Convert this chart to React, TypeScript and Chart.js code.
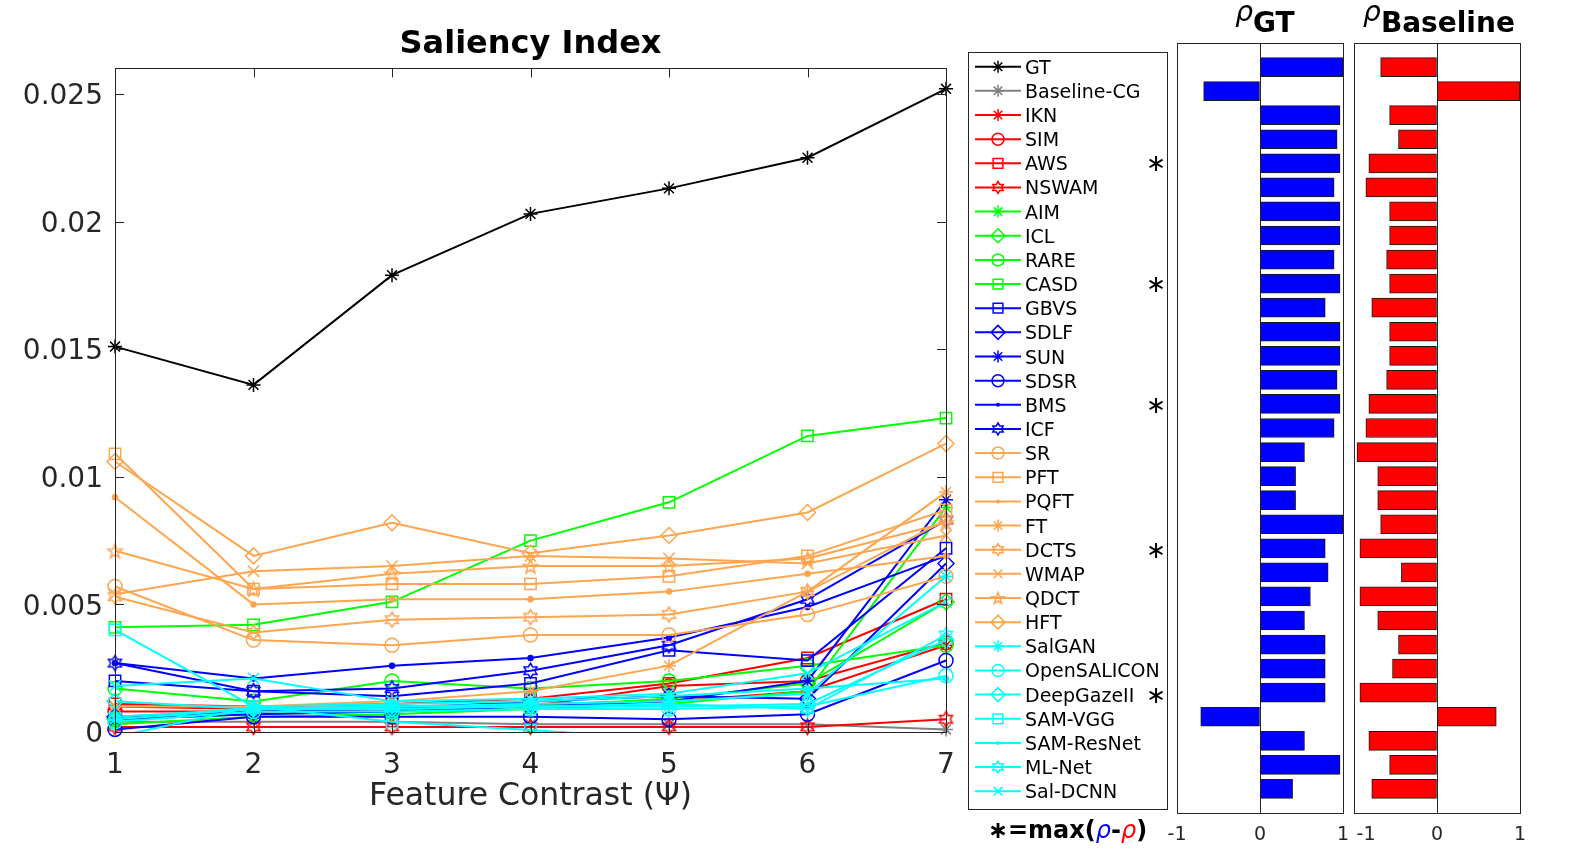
import React, { useEffect, useRef } from 'react';
import { Chart, registerables } from 'chart.js';

Chart.register(...registerables);

const FONT = '"DejaVu Sans", "Liberation Sans", sans-serif';
Chart.defaults.font.family = FONT;

// ---------------- data ----------------
const CONTRAST_LEVELS = [1, 2, 3, 4, 5, 6, 7];

const GT = [0.0151, 0.0136, 0.0179, 0.0203, 0.0213, 0.0225, 0.0252];
const BASELINE_CG = [0.0004, 0.0004, 0.0004, 0.0003, 0.0003, 0.0003, 0.0001];
const IKN = [0.001, 0.0009, 0.001, 0.0011, 0.0012, 0.0016, 0.0034];
const SIM = [0.0008, 0.0008, 0.0009, 0.001, 0.0018, 0.002, 0.0035];
const AWS = [0.0011, 0.001, 0.0011, 0.0013, 0.0019, 0.0029, 0.0052];
const NSWAM = [0.0002, 0.0002, 0.0002, 0.0002, 0.0002, 0.0002, 0.0005];
const AIM = [0.0003, 0.0006, 0.0007, 0.0009, 0.0011, 0.0016, 0.0088];
const ICL = [0.0005, 0.0007, 0.0008, 0.001, 0.0013, 0.0019, 0.0051];
const RARE = [0.0017, 0.0012, 0.002, 0.0017, 0.002, 0.0026, 0.0034];
const CASD = [0.0041, 0.0042, 0.0051, 0.0075, 0.009, 0.0116, 0.0123];
const GBVS = [0.002, 0.0016, 0.0014, 0.0019, 0.0032, 0.0028, 0.0072];
const SDLF = [0.0006, 0.0008, 0.0009, 0.0012, 0.0014, 0.0013, 0.0066];
const SUN = [0.0005, 0.0007, 0.0008, 0.001, 0.0012, 0.002, 0.0091];
const SDSR = [0.0001, 0.0006, 0.0006, 0.0006, 0.0005, 0.0007, 0.0028];
const BMS = [0.0027, 0.0021, 0.0026, 0.0029, 0.0037, 0.0049, 0.0069];
const ICF = [0.0027, 0.0016, 0.0017, 0.0024, 0.0034, 0.0052, 0.0083];
const SR = [0.0057, 0.0036, 0.0034, 0.0038, 0.0038, 0.0046, 0.0061];
const PFT = [0.0109, 0.0056, 0.0058, 0.0058, 0.0061, 0.0069, 0.0087];
const PQFT = [0.0092, 0.005, 0.0052, 0.0052, 0.0055, 0.0062, 0.0069];
const FT = [0.001, 0.001, 0.0012, 0.0016, 0.0026, 0.0055, 0.0094];
const DCTS = [0.0053, 0.0039, 0.0044, 0.0045, 0.0046, 0.0055, 0.0083];
const WMAP = [0.0054, 0.0063, 0.0065, 0.0069, 0.0068, 0.0066, 0.0077];
const QDCT = [0.0071, 0.0056, 0.0062, 0.0065, 0.0065, 0.0068, 0.0082];
const HFT = [0.0106, 0.0069, 0.0082, 0.007, 0.0077, 0.0086, 0.0113];
const SALGAN = [0.0005, 0.0009, 0.001, 0.0011, 0.0012, 0.0015, 0.0061];
const OPENSALICON = [0.0004, 0.0008, 0.0008, 0.0009, 0.0009, 0.001, 0.0022];
const DEEPGAZEII = [0.0012, 0.0009, 0.0009, 0.001, 0.001, 0.0011, 0.0036];
const SAM_VGG = [0.004, 0.001, 0.0004, 0.00008, -0.0003, -0.0004, -0.0004];
const SAM_RESNET = [-0.0002, 0.001, 0.0011, 0.0012, 0.0014, 0.0017, 0.0021];
const ML_NET = [0.0006, 0.0009, 0.001, 0.001, 0.0011, 0.0009, 0.0038];
const SAL_DCNN = [0.0018, 0.0021, 0.0012, 0.0013, 0.0015, 0.0023, 0.0051];

const METHOD_NAMES = [
  'GT', 'Baseline-CG', 'IKN', 'SIM', 'AWS', 'NSWAM', 'AIM', 'ICL', 'RARE', 'CASD',
  'GBVS', 'SDLF', 'SUN', 'SDSR', 'BMS', 'ICF', 'SR', 'PFT', 'PQFT', 'FT', 'DCTS',
  'WMAP', 'QDCT', 'HFT', 'SalGAN', 'OpenSALICON', 'DeepGazeII', 'SAM-VGG',
  'SAM-ResNet', 'ML-Net', 'Sal-DCNN',
];

const RHO_GT = [
  1.0, -0.679, 0.964, 0.929, 0.964, 0.893, 0.964, 0.964, 0.893, 0.964,
  0.786, 0.964, 0.964, 0.929, 0.964, 0.893, 0.536, 0.429, 0.429, 1.0, 0.786,
  0.821, 0.607, 0.536, 0.786, 0.786, 0.786, -0.714, 0.536, 0.964, 0.393,
];
const RHO_BASELINE = [
  -0.679, 1.0, -0.571, -0.464, -0.821, -0.857, -0.571, -0.571, -0.607, -0.571,
  -0.786, -0.571, -0.571, -0.607, -0.821, -0.857, -0.964, -0.714, -0.714, -0.679,
  -0.929, -0.429, -0.929, -0.714, -0.464, -0.536, -0.929, 0.714, -0.821, -0.571, -0.786,
];

const MAX_DIFF_METHODS = ['AWS', 'CASD', 'BMS', 'DCTS', 'DeepGazeII'];

// ---------------- styles ----------------
const BLACK = '#000000';
const GRAY = '#808080';
const RED = '#ff0000';
const GREEN = '#00ff00';
const BLUE = '#0000ff';
const ORANGE = '#ffa54f';
const CYAN = '#00ffff';
const AXIS = '#262626';

type Marker = 'star' | 'circle' | 'rect' | 'rectRot' | 'crossRot' | 'dot' | 'hexagram' | 'pentagram';
interface Series { name: string; values: number[]; color: string; marker: Marker; }

const SERIES: Series[] = [
  { name: 'GT', values: GT, color: BLACK, marker: 'star' },
  { name: 'Baseline-CG', values: BASELINE_CG, color: GRAY, marker: 'star' },
  { name: 'IKN', values: IKN, color: RED, marker: 'star' },
  { name: 'SIM', values: SIM, color: RED, marker: 'circle' },
  { name: 'AWS', values: AWS, color: RED, marker: 'rect' },
  { name: 'NSWAM', values: NSWAM, color: RED, marker: 'hexagram' },
  { name: 'AIM', values: AIM, color: GREEN, marker: 'star' },
  { name: 'ICL', values: ICL, color: GREEN, marker: 'rectRot' },
  { name: 'RARE', values: RARE, color: GREEN, marker: 'circle' },
  { name: 'CASD', values: CASD, color: GREEN, marker: 'rect' },
  { name: 'GBVS', values: GBVS, color: BLUE, marker: 'rect' },
  { name: 'SDLF', values: SDLF, color: BLUE, marker: 'rectRot' },
  { name: 'SUN', values: SUN, color: BLUE, marker: 'star' },
  { name: 'SDSR', values: SDSR, color: BLUE, marker: 'circle' },
  { name: 'BMS', values: BMS, color: BLUE, marker: 'dot' },
  { name: 'ICF', values: ICF, color: BLUE, marker: 'hexagram' },
  { name: 'SR', values: SR, color: ORANGE, marker: 'circle' },
  { name: 'PFT', values: PFT, color: ORANGE, marker: 'rect' },
  { name: 'PQFT', values: PQFT, color: ORANGE, marker: 'dot' },
  { name: 'FT', values: FT, color: ORANGE, marker: 'star' },
  { name: 'DCTS', values: DCTS, color: ORANGE, marker: 'hexagram' },
  { name: 'WMAP', values: WMAP, color: ORANGE, marker: 'crossRot' },
  { name: 'QDCT', values: QDCT, color: ORANGE, marker: 'pentagram' },
  { name: 'HFT', values: HFT, color: ORANGE, marker: 'rectRot' },
  { name: 'SalGAN', values: SALGAN, color: CYAN, marker: 'star' },
  { name: 'OpenSALICON', values: OPENSALICON, color: CYAN, marker: 'circle' },
  { name: 'DeepGazeII', values: DEEPGAZEII, color: CYAN, marker: 'rectRot' },
  { name: 'SAM-VGG', values: SAM_VGG, color: CYAN, marker: 'rect' },
  { name: 'SAM-ResNet', values: SAM_RESNET, color: CYAN, marker: 'dot' },
  { name: 'ML-Net', values: ML_NET, color: CYAN, marker: 'hexagram' },
  { name: 'Sal-DCNN', values: SAL_DCNN, color: CYAN, marker: 'crossRot' },
];

// ---------------- marker drawing helpers ----------------
function starPath(ctx: CanvasRenderingContext2D, n: number, x: number, y: number, ro: number, ri: number) {
  for (let k = 0; k < 2 * n; k++) {
    const r = k % 2 === 0 ? ro : ri;
    const a = -Math.PI / 2 + (k * Math.PI) / n;
    const px = x + r * Math.cos(a);
    const py = y + r * Math.sin(a);
    if (k === 0) ctx.moveTo(px, py);
    else ctx.lineTo(px, py);
  }
  ctx.closePath();
}

function drawMarker(ctx: CanvasRenderingContext2D, m: Marker, x: number, y: number, r: number, color: string, lw: number) {
  ctx.save();
  ctx.strokeStyle = color;
  ctx.fillStyle = color;
  ctx.lineWidth = lw;
  ctx.beginPath();
  switch (m) {
    case 'star':
      for (let k = 0; k < 4; k++) {
        const a = (k * Math.PI) / 4;
        ctx.moveTo(x - r * Math.cos(a), y - r * Math.sin(a));
        ctx.lineTo(x + r * Math.cos(a), y + r * Math.sin(a));
      }
      ctx.stroke();
      break;
    case 'circle':
      ctx.arc(x, y, r, 0, Math.PI * 2);
      ctx.stroke();
      break;
    case 'rect': {
      const s = r * 0.75;
      ctx.rect(x - s, y - s, 2 * s, 2 * s);
      ctx.stroke();
      break;
    }
    case 'rectRot':
      ctx.moveTo(x, y - r);
      ctx.lineTo(x + r, y);
      ctx.lineTo(x, y + r);
      ctx.lineTo(x - r, y);
      ctx.closePath();
      ctx.stroke();
      break;
    case 'crossRot': {
      const c = r * 0.72;
      ctx.moveTo(x - c, y - c);
      ctx.lineTo(x + c, y + c);
      ctx.moveTo(x + c, y - c);
      ctx.lineTo(x - c, y + c);
      ctx.stroke();
      break;
    }
    case 'dot':
      ctx.arc(x, y, 2, 0, Math.PI * 2);
      ctx.fill();
      break;
    case 'hexagram':
      starPath(ctx, 6, x, y, r, r * 0.58);
      ctx.stroke();
      break;
    case 'pentagram':
      starPath(ctx, 5, x, y + r * 0.1, r, r * 0.4);
      ctx.stroke();
      break;
  }
  ctx.restore();
}

function markerImage(m: Marker, color: string, r: number): HTMLCanvasElement {
  const c = document.createElement('canvas');
  const size = Math.ceil(2 * r + 4);
  c.width = size;
  c.height = size;
  const ctx = c.getContext('2d')!;
  drawMarker(ctx, m, size / 2, size / 2, r, color, 1.5);
  return c;
}

// ---------------- plugin: MATLAB-like axes box with inner ticks ----------------
const matlabBox = {
  id: 'matlabBox',
  afterDraw(chart: any, _args: any, opts: any) {
    const { ctx, chartArea } = chart;
    const { left, right, top, bottom } = chartArea;
    ctx.save();
    ctx.strokeStyle = AXIS;
    ctx.lineWidth = 1;
    ctx.strokeRect(Math.round(left) + 0.5, Math.round(top) + 0.5, Math.round(right - left), Math.round(bottom - top));
    const tl = opts && opts.tickLength ? opts.tickLength : 0;
    if (tl > 0) {
      ctx.beginPath();
      const xs = chart.scales.x;
      xs.ticks.forEach((t: any) => {
        const px = Math.round(xs.getPixelForValue(t.value)) + 0.5;
        ctx.moveTo(px, bottom);
        ctx.lineTo(px, bottom - tl);
        ctx.moveTo(px, top);
        ctx.lineTo(px, top + tl);
      });
      const ys = chart.scales.y;
      ys.ticks.forEach((t: any) => {
        const k = Math.round(t.value / 0.005);
        if (Math.abs(t.value - k * 0.005) > 1e-9) return;
        const py = Math.round(ys.getPixelForValue(t.value)) + 0.5;
        ctx.moveTo(left, py);
        ctx.lineTo(left + tl, py);
        ctx.moveTo(right, py);
        ctx.lineTo(right - tl, py);
      });
      ctx.stroke();
    }
    ctx.restore();
  },
};

function markerRadius(m: Marker): number {
  switch (m) {
    case 'dot': return 2.5;
    case 'rect': return 8;
    case 'rectRot': return 8;
    case 'crossRot': return 8;
    default: return 7;
  }
}

function mainConfig(): any {
  const datasets = SERIES.map((s, i) => {
    const custom = s.marker === 'hexagram' || s.marker === 'pentagram';
    const dipsBelow = s.values.some((v) => v < 0);
    return {
      label: s.name,
      data: s.values.map((v, k) => ({ x: CONTRAST_LEVELS[k], y: v })),
      borderColor: s.color,
      borderWidth: 2,
      pointStyle: custom ? markerImage(s.marker, s.color, 7.5) : s.marker === 'dot' ? 'circle' : s.marker,
      pointRadius: markerRadius(s.marker),
      pointBorderColor: s.color,
      pointBorderWidth: 1.5,
      pointBackgroundColor: s.marker === 'dot' ? s.color : 'rgba(0,0,0,0)',
      order: 100 - i,
      tension: 0,
      clip: { left: 12, right: 12, top: 12, bottom: dipsBelow ? 0 : 10 },
    };
  });
  return {
    type: 'line',
    data: { datasets },
    options: {
      responsive: false,
      animation: false,
      events: [],
      layout: { padding: { left: 0, right: 34, top: 0, bottom: 0 } },
      plugins: {
        legend: { display: false },
        tooltip: { enabled: false },
        title: {
          display: true,
          fullSize: false,
          text: 'Saliency Index',
          color: '#000000',
          font: { family: FONT, size: 32, weight: 'bold' },
          padding: { top: 25, bottom: 5 },
        },
        matlabBox: { tickLength: 9 },
      },
      scales: {
        x: {
          type: 'linear',
          min: 1,
          max: 7,
          ticks: { stepSize: 1, color: AXIS, font: { family: FONT, size: 28 }, padding: 17 },
          grid: { display: false, drawTicks: false },
          border: { display: false },
          title: {
            display: true,
            text: 'Feature Contrast (Ψ)',
            color: AXIS,
            font: { family: FONT, size: 31.5 },
            padding: { top: 0, bottom: 4 },
          },
          afterFit: (s: any) => {
            s.height = 88;
            s.paddingLeft = 0;
            s.paddingRight = 0;
          },
        },
        y: {
          type: 'linear',
          min: 0,
          max: 0.026,
          ticks: {
            stepSize: 0.005,
            includeBounds: false,
            color: AXIS,
            font: { family: FONT, size: 28 },
            padding: 12,
            labelOffset: 3,
            callback: (v: any) => {
              const n = Number(v);
              const k = Math.round(n / 0.005);
              if (Math.abs(n - k * 0.005) > 1e-9) return '';
              return k === 0 ? '0' : (k * 0.005).toFixed(3).replace(/0+$/, '');
            },
          },
          grid: { display: false, drawTicks: false },
          border: { display: false },
          afterFit: (s: any) => {
            s.width = 115;
            s.paddingTop = 0;
            s.paddingBottom = 0;
          },
        },
      },
    },
    plugins: [matlabBox],
  };
}

const RHO_PAD = 40;

function rhoConfig(values: number[], color: string, shiftFirstLabel: boolean): any {
  return {
    type: 'bar',
    data: {
      labels: ['', ...METHOD_NAMES, ''],
      datasets: [
        {
          data: [null, ...values, null],
          backgroundColor: color,
          borderColor: '#1a1a1a',
          borderWidth: 1,
          borderSkipped: false,
          barThickness: 19,
        },
      ],
    },
    options: {
      indexAxis: 'y',
      responsive: false,
      animation: false,
      events: [],
      layout: { padding: { left: RHO_PAD, right: RHO_PAD, top: 43, bottom: 0 } },
      plugins: {
        legend: { display: false },
        tooltip: { enabled: false },
        matlabBox: { tickLength: 0 },
      },
      scales: {
        y: { display: false, offset: false, grid: { display: false } },
        x: {
          type: 'linear',
          min: -1,
          max: 1,
          ticks: {
            stepSize: 1,
            color: AXIS,
            font: { family: FONT, size: 19 },
            padding: 11,
            callback: (v: any) => {
              const n = Math.round(Number(v));
              if (n === -1 && shiftFirstLabel) return '    -1';
              return String(n);
            },
          },
          grid: {
            drawTicks: false,
            lineWidth: 1,
            color: (c: any) => (c.tick && c.tick.value === 0 ? AXIS : 'rgba(0,0,0,0)'),
          },
          border: { display: false },
          afterFit: (s: any) => {
            s.height = 36;
            s.paddingLeft = 0;
            s.paddingRight = 0;
          },
        },
      },
    },
    plugins: [matlabBox],
  };
}

// ---------------- legend geometry ----------------
const LEG_LEFT = 968;
const LEG_TOP = 52;
const LEG_W = 199;
const LEG_H = 757;
const LEG_FIRST = 66.7;
const LEG_STEP = 24.15;

function drawLegend(canvas: HTMLCanvasElement) {
  const ctx = canvas.getContext('2d')!;
  ctx.clearRect(0, 0, canvas.width, canvas.height);
  ctx.strokeStyle = AXIS;
  ctx.lineWidth = 1;
  ctx.strokeRect(0.5, 0.5, LEG_W, LEG_H);
  SERIES.forEach((s, i) => {
    const y = LEG_FIRST - LEG_TOP + i * LEG_STEP;
    ctx.save();
    ctx.strokeStyle = s.color;
    ctx.lineWidth = 2;
    ctx.beginPath();
    ctx.moveTo(7, y);
    ctx.lineTo(53, y);
    ctx.stroke();
    ctx.restore();
    const r = s.marker === 'rect' ? 6.5 : s.marker === 'rectRot' ? 7 : 6;
    drawMarker(ctx, s.marker, 30, y, r, s.color, 1.5);
  });
}

export default function App() {
  const mainRef = useRef<HTMLCanvasElement>(null);
  const gtRef = useRef<HTMLCanvasElement>(null);
  const baseRef = useRef<HTMLCanvasElement>(null);
  const legRef = useRef<HTMLCanvasElement>(null);

  useEffect(() => {
    document.body.style.margin = '0';
    const charts: Chart[] = [];
    if (mainRef.current) charts.push(new Chart(mainRef.current, mainConfig()));
    if (gtRef.current) charts.push(new Chart(gtRef.current, rhoConfig(RHO_GT, BLUE, false)));
    if (baseRef.current) charts.push(new Chart(baseRef.current, rhoConfig(RHO_BASELINE, RED, true)));
    if (legRef.current) drawLegend(legRef.current);
    return () => {
      charts.forEach((c) => c.destroy());
    };
  }, []);

  const abs = (l: number, t: number): React.CSSProperties => ({ position: 'absolute', left: l, top: t });

  return (
    <div
      style={{
        position: 'fixed',
        left: 0,
        top: 0,
        width: 1572,
        height: 849,
        background: '#ffffff',
        fontFamily: FONT,
        overflow: 'hidden',
      }}
    >
      <canvas ref={mainRef} width={980} height={820} style={abs(0, 0)} />

      {/* legend */}
      <canvas ref={legRef} width={LEG_W + 2} height={LEG_H + 2} style={abs(LEG_LEFT, LEG_TOP)} />
      {SERIES.map((s, i) => {
        const y = LEG_FIRST + i * LEG_STEP;
        return (
          <div
            key={s.name}
            style={{ ...abs(1025, y - 12), fontSize: 19, lineHeight: '24px', color: '#000', whiteSpace: 'nowrap' }}
          >
            {s.name}
          </div>
        );
      })}
      {SERIES.map((s, i) =>
        MAX_DIFF_METHODS.includes(s.name) ? (
          <div
            key={'m' + s.name}
            style={{ ...abs(1146, LEG_FIRST + i * LEG_STEP - 15), fontSize: 24, lineHeight: '30px', color: '#000' }}
          >
            ∗
          </div>
        ) : null
      )}
      <div
        style={{
          ...abs(LEG_LEFT - 10, 812),
          width: LEG_W + 20,
          textAlign: 'center',
          fontSize: 24,
          fontWeight: 'bold',
          lineHeight: '36px',
          color: '#000',
          whiteSpace: 'nowrap',
        }}
      >
        ∗=max(
        <span style={{ color: BLUE, fontStyle: 'italic', fontWeight: 'normal' }}>ρ</span>
        -
        <span style={{ color: RED, fontStyle: 'italic', fontWeight: 'normal' }}>ρ</span>)
      </div>

      {/* rho bar charts */}
      <canvas ref={gtRef} width={166 + 2 * RHO_PAD} height={849} style={abs(1177 - RHO_PAD, 0)} />
      <canvas ref={baseRef} width={166 + 2 * RHO_PAD} height={849} style={abs(1354 - RHO_PAD, 0)} />

      <div style={{ ...abs(1177, 0), width: 176, height: 40, lineHeight: '40px', textAlign: 'center', whiteSpace: 'nowrap', color: '#000' }}>
        <span style={{ fontSize: 28, fontStyle: 'italic', position: 'relative', top: -8 }}>ρ</span>
        <span style={{ fontSize: 28, fontWeight: 'bold', position: 'relative', top: 3 }}>GT</span>
      </div>
      <div style={{ ...abs(1354, 0), width: 170, height: 40, lineHeight: '40px', textAlign: 'center', whiteSpace: 'nowrap', color: '#000' }}>
        <span style={{ fontSize: 28, fontStyle: 'italic', position: 'relative', top: -8 }}>ρ</span>
        <span style={{ fontSize: 28, fontWeight: 'bold', position: 'relative', top: 3 }}>Baseline</span>
      </div>
    </div>
  );
}
